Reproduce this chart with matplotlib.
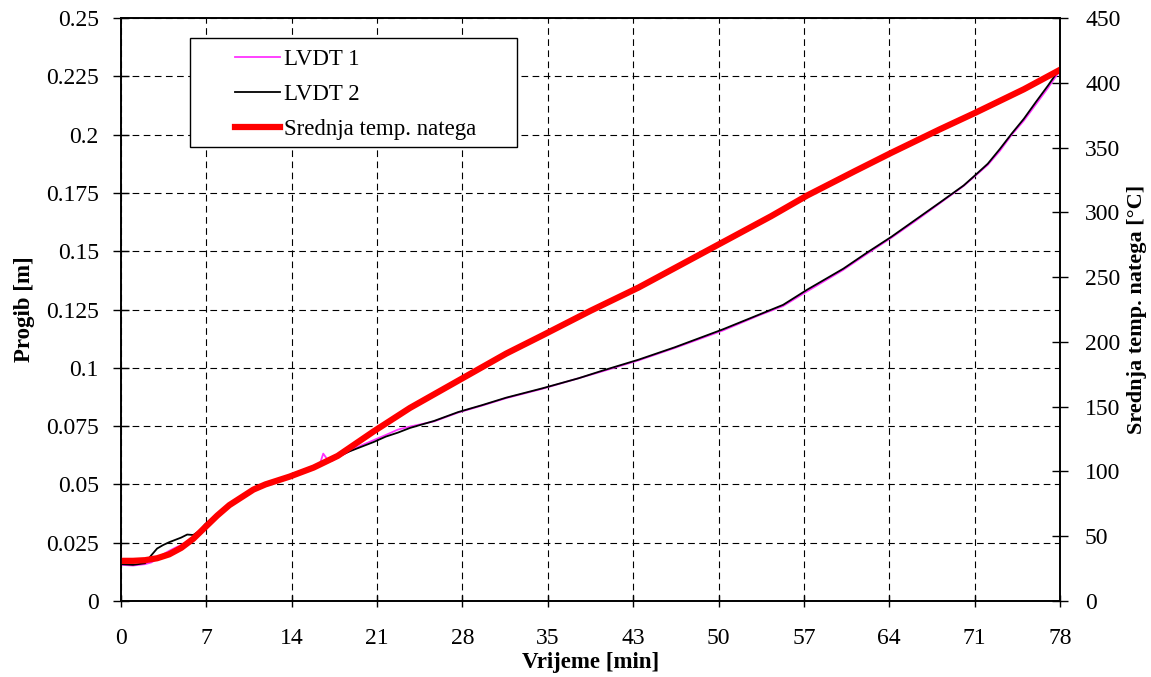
import matplotlib as mpl
from matplotlib import pyplot as plt
from matplotlib.patches import Rectangle

mpl.rcParams['font.family'] = ['Liberation Serif', 'DejaVu Serif']
mpl.rcParams['axes.unicode_minus'] = False

# vrijeme [min] i progib [m]
t_lvdt1 = [0, 1, 2, 2.5, 3, 3.5, 4, 4.5, 5, 5.5, 6, 6.5, 7, 8, 9, 10, 11, 12, 13, 14,
           15, 16, 16.5, 16.8, 17.1, 17.5, 18, 19, 20, 21, 22, 23, 24, 26, 28, 30, 32,
           35, 38, 40, 43, 46, 50, 53, 55, 57, 60, 62, 64, 66, 68, 70, 71, 72, 73, 74,
           75, 76, 77, 78]
lvdt1 = [0.0155, 0.0152, 0.0158, 0.0165, 0.0180, 0.0200, 0.0215, 0.0228, 0.0240, 0.0255,
         0.0272, 0.0290, 0.0318, 0.0365, 0.0410, 0.0447, 0.0476, 0.0497, 0.0518, 0.0536,
         0.0553, 0.0572, 0.0585, 0.0632, 0.0610, 0.0600, 0.0615, 0.0643, 0.0668, 0.0690,
         0.0712, 0.0735, 0.0748, 0.0770, 0.0808, 0.0838, 0.0870, 0.0910, 0.0955, 0.0985,
         0.1032, 0.1085, 0.1160, 0.1225, 0.1265, 0.1328, 0.1420, 0.1490, 0.1558, 0.1630,
         0.1705, 0.1780, 0.1825, 0.1870, 0.1930, 0.2000, 0.2060, 0.2130, 0.2200, 0.2275]

t_lvdt2 = [0, 1, 2, 2.5, 3, 3.5, 4, 4.5, 5, 5.5, 6, 6.5, 7, 8, 9, 10, 11, 12, 13, 14,
           15, 16, 17, 18, 19, 20, 21, 22, 23, 24, 26, 28, 30, 32, 35, 38, 40, 43, 46,
           50, 53, 55, 57, 60, 62, 64, 66, 68, 70, 71, 72, 73, 74, 75, 76, 77, 78]
lvdt2 = [0.0158, 0.0155, 0.0162, 0.0195, 0.0225, 0.0240, 0.0252, 0.0262, 0.0272, 0.0285,
         0.0283, 0.0300, 0.0330, 0.0372, 0.0412, 0.0448, 0.0477, 0.0498, 0.0516, 0.0535,
         0.0552, 0.0572, 0.0597, 0.0618, 0.0642, 0.0662, 0.0682, 0.0705, 0.0722, 0.0742,
         0.0772, 0.0810, 0.0840, 0.0872, 0.0912, 0.0955, 0.0988, 0.1035, 0.1088, 0.1165,
         0.1228, 0.1270, 0.1335, 0.1425, 0.1495, 0.1562, 0.1635, 0.1708, 0.1782, 0.1828,
         0.1875, 0.1938, 0.2005, 0.2068, 0.2140, 0.2210, 0.2285]

# srednja temperatura natega [°C]
t_temp = [0, 1, 2, 3, 4, 5, 6, 7, 8, 9, 10, 11, 12, 14, 16, 18, 21, 24, 28, 32, 35,
          39, 43, 47, 50, 54, 57, 61, 64, 68, 71, 75, 78]
temp = [31, 31, 31.5, 33, 36, 41, 48, 57, 66, 74, 80, 86, 90, 96, 103, 112, 131, 149,
        170, 191, 205, 224, 242, 262, 277, 297, 313, 332, 346, 364, 377, 395, 410]

xtick_pos = [78 / 11 * k for k in range(12)]
xtick_lab = ['0', '7', '14', '21', '28', '35', '43', '50', '57', '64', '71', '78']

fig = plt.figure(figsize=(11.51, 6.77), dpi=100)
ax = fig.add_axes([121 / 1151, 1 - 601 / 677, (1060 - 121) / 1151, (601 - 18) / 677])
ax2 = ax.twinx()

l1, = ax.plot(t_lvdt1, lvdt1, '-', color='#ff33ff', lw=1.3, label='LVDT 1')
l2, = ax.plot(t_lvdt2, lvdt2, '-', color='black', lw=1.3, label='LVDT 2')
l3, = ax2.plot(t_temp, temp, '-', color='#ff0000', lw=4.5, label='Srednja temp. natega')

ax.set_xlim(0, 78)
ax.set_ylim(0, 0.25)
ax2.set_ylim(0, 450)
ax.set_yticks([0.025 * i for i in range(11)])
ax.set_yticklabels(['0', '0.025', '0.05', '0.075', '0.1', '0.125', '0.15', '0.175',
                    '0.2', '0.225', '0.25'])
ax2.set_yticks(range(0, 451, 50))
ax.set_xticks(xtick_pos)
ax.set_xticklabels(xtick_lab)

ax.grid(True, color='black', ls=(0, (6, 4)), lw=0.8)
ax.tick_params(axis='y', direction='inout', length=12, width=1, labelsize=17, pad=10)
ax.tick_params(axis='x', direction='inout', length=9, width=1, labelsize=17, pad=15)
ax2.tick_params(axis='y', direction='inout', length=12, width=1, labelsize=17, pad=12)
for a in (ax, ax2):
    for s in a.spines.values():
        s.set_linewidth(1.2)

ax.set_xlabel('Vrijeme [min]', fontsize=16.5, fontweight='bold', labelpad=2)
ax.set_ylabel('Progib [m]', fontsize=16.5, fontweight='bold', labelpad=8)
ax2.set_ylabel('Srednja temp. natega [°C]', fontsize=16, fontweight='bold', labelpad=5)

# okvir legende
ax.add_patch(Rectangle((0.0735, 0.7787), 0.3482, 0.187, transform=ax.transAxes,
                       facecolor='white', edgecolor='black', lw=1.0, zorder=4))
leg = ax.legend(handles=[l1, l2, l3], loc='upper left', bbox_to_anchor=(0.1214, 0.947),
                fontsize=16.5, frameon=False, borderpad=0, handlelength=1.96,
                handletextpad=0.2, labelspacing=0.6, borderaxespad=0)
leg.set_zorder(5)

fig.savefig('out.png', dpi=100)
